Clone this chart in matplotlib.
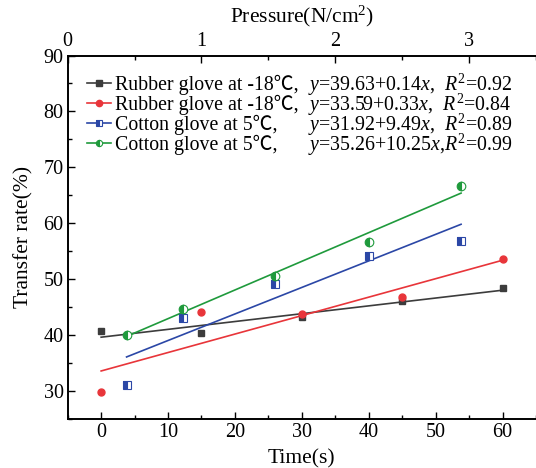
import matplotlib
matplotlib.use("Agg")
import matplotlib.pyplot as plt
from matplotlib.lines import Line2D
from matplotlib.ticker import MultipleLocator
import numpy as np

plt.rcParams['font.family'] = ['Liberation Serif', 'Noto Sans CJK SC']
plt.rcParams['mathtext.fontset'] = 'custom'
plt.rcParams['mathtext.rm'] = 'Liberation Serif'
plt.rcParams['mathtext.it'] = 'Liberation Serif:italic'

# rubber gloves vs time (bottom axis)
time_s = [0, 15, 30, 45, 60]
rubber_a = [40.7, 40.4, 43.3, 46.1, 48.5]
rubber_b = [29.8, 44.1, 43.8, 46.8, 53.6]

# cotton gloves vs pressure (top axis)
pressure = [0.44, 0.86, 1.55, 2.25, 2.94]
cotton_a = [31.1, 43.1, 49.2, 54.2, 56.9]
cotton_b = [40.0, 44.7, 50.5, 56.7, 66.7]

# linear fits (intercept, slope) from the legend
fits = [(39.63, 0.14), (33.59, 0.33), (31.92, 9.49), (35.26, 10.25)]
names = ["Rubber glove at -18\u2103,", "Rubber glove at -18\u2103,",
         "Cotton glove at 5\u2103,", "Cotton glove at 5\u2103,"]
eqs = [r"$y\text{=39.63+0.14}x\text{,  }R^2\text{=0.92}$",
       r"$y\text{=33.59+0.33}x\text{,  }R^2\text{=0.84}$",
       r"$y\text{=31.92+9.49}x\text{,  }R^2\text{=0.89}$",
       r"$y\text{=35.26+10.25}x\text{,}R^2\text{=0.99}$"]

colors = ['#3c3c3c', '#e8353a', '#2b47a6', '#1f9a3c']
fs_tick = 14.5
fs_lab = 15.5
fs_leg = 14.3

fig = plt.figure(figsize=(5.36, 4.68), dpi=100)
ax = fig.add_axes([0.1263, 0.1047, 0.8737, 0.7767])
ax2 = ax.twiny()

# data points
ax.plot(time_s, rubber_a, 's', color=colors[0], ms=4.8, zorder=3)
ax.plot(time_s, rubber_b, 'o', color=colors[1], ms=5, zorder=3)
ax2.plot(pressure, cotton_a, 's', color=colors[2], ms=5.8, fillstyle='left',
         markerfacecoloralt='white', markeredgewidth=0.8, zorder=3)
ax2.plot(pressure, cotton_b, 'o', color=colors[3], ms=6.2, fillstyle='left',
         markerfacecoloralt='white', markeredgewidth=0.8, zorder=3)

# fit lines
t = np.array([time_s[0], time_s[-1]])
ax.plot(t, fits[0][0] + fits[0][1] * t, color=colors[0], lw=1.2)
ax.plot(t, fits[1][0] + fits[1][1] * t, color=colors[1], lw=1.2)
p = np.array([pressure[0], pressure[-1]])
ax2.plot(p, fits[2][0] + fits[2][1] * p, color=colors[2], lw=1.2)
ax2.plot(p, fits[3][0] + fits[3][1] * p, color=colors[3], lw=1.2)

ax.set_xlim(-5, 65)
ax.set_ylim(25, 90)
ax2.set_xlim(0, 3.5)

ax.xaxis.set_major_locator(MultipleLocator(10))
ax.xaxis.set_minor_locator(MultipleLocator(5))
ax.yaxis.set_major_locator(MultipleLocator(10))
ax.yaxis.set_minor_locator(MultipleLocator(5))
ax2.xaxis.set_major_locator(MultipleLocator(1))
ax2.xaxis.set_minor_locator(MultipleLocator(0.5))

for a in (ax, ax2):
    a.spines['right'].set_visible(False)
    for s in a.spines.values():
        s.set_linewidth(1.2)
    a.tick_params(which='both', direction='in', labelsize=fs_tick, width=1.0, pad=3)
    a.tick_params(which='major', length=5)
    a.tick_params(which='minor', length=3)
ax.tick_params(top=False, right=False)

ax.set_xlabel("Time(s)", fontsize=fs_lab, labelpad=5)
ax.set_ylabel("Transfer rate(%)", fontsize=fs_lab, labelpad=7)
ax2.set_xlabel("Pressure(N/cm$^2$)", fontsize=fs_lab, labelpad=7)

markers = ['s', 'o', 's', 'o']
handles = []
for i in range(4):
    kw = dict(color=colors[i], marker=markers[i], ms=4.5, lw=1.2)
    if i >= 2:
        kw.update(fillstyle='left', markerfacecoloralt='white', markeredgewidth=0.8)
    handles.append(Line2D([0], [0], **kw))

leg = ax.legend(handles, names, loc='upper left', frameon=False, fontsize=fs_leg,
                handlelength=1.2, handletextpad=0.2, labelspacing=0.0,
                borderaxespad=0.0, bbox_to_anchor=(0.025, 0.97))

fig.canvas.draw()
inv = fig.transFigure.inverted()
for txt, eq in zip(leg.get_texts(), eqs):
    bb = txt.get_window_extent()
    y = inv.transform((0, (bb.y0 + bb.y1) / 2))[1]
    fig.text(308 / 536, y, eq, fontsize=fs_leg, va='center', ha='left')

fig.savefig("out.png", dpi=100)
